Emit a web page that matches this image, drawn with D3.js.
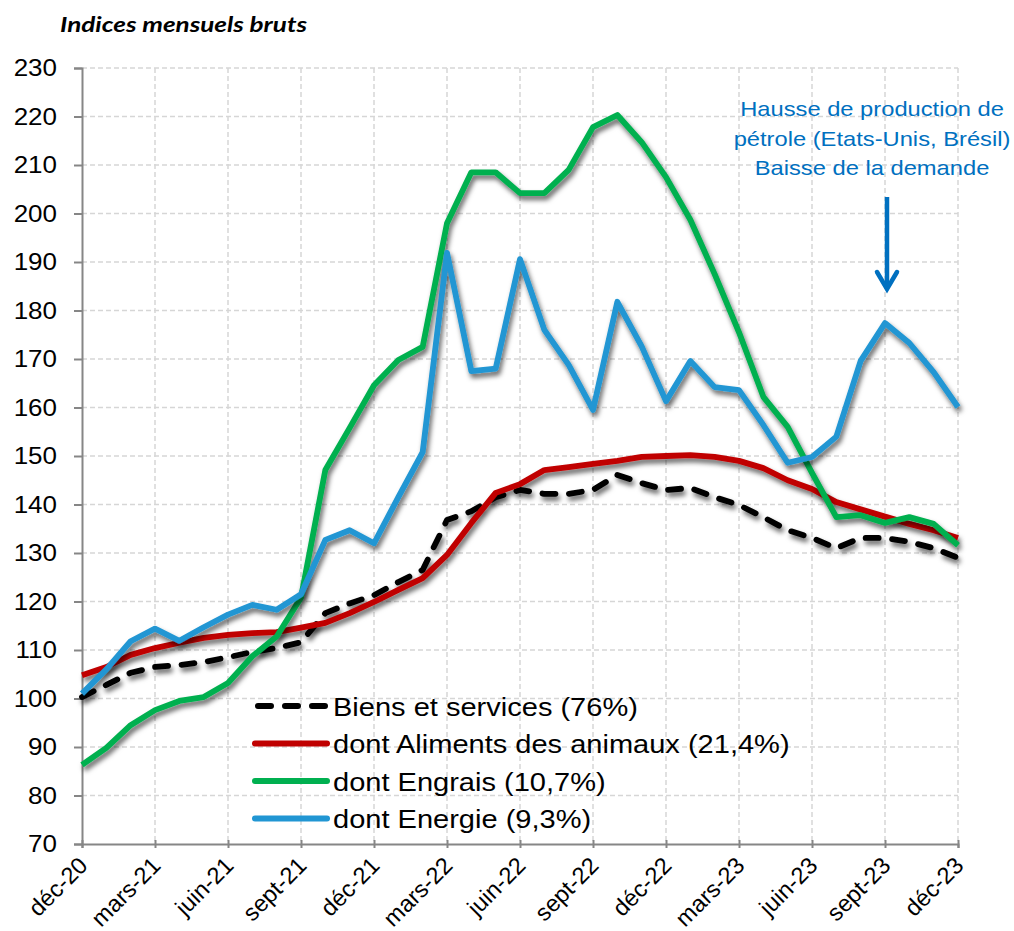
<!DOCTYPE html>
<html>
<head>
<meta charset="utf-8">
<script src="https://cdn.jsdelivr.net/npm/d3@7"></script>
<style>
  body { margin: 0; background: #fff; }
  text { font-family: "Liberation Sans", Arial, sans-serif; }
</style>
</head>
<body>
<div id="chart"></div>
<script>
// months, déc-20 .. déc-23
var months = ["déc-20","janv-21","févr-21","mars-21","avr-21","mai-21","juin-21","juil-21","août-21",
  "sept-21","oct-21","nov-21","déc-21","janv-22","févr-22","mars-22","avr-22","mai-22","juin-22",
  "juil-22","août-22","sept-22","oct-22","nov-22","déc-22","janv-23","févr-23","mars-23","avr-23",
  "mai-23","juin-23","juil-23","août-23","sept-23","oct-23","nov-23","déc-23"];

// only every 3rd month gets a label
var tickMonths = ["déc-20","mars-21","juin-21","sept-21","déc-21","mars-22","juin-22","sept-22",
  "déc-22","mars-23","juin-23","sept-23","déc-23"];

var yTicks = [70,80,90,100,110,120,130,140,150,160,170,180,190,200,210,220,230];

var biens = [100.3,102.8,105.3,106.5,106.9,107.5,108.5,109.6,110.4,111.6,117.6,119.6,121.3,124.0,
  126.5,136.8,138.6,141.5,143.0,142.2,142.2,143.0,146.1,144.4,143.0,143.4,141.5,139.9,137.4,134.7,
  133.1,131.0,133.1,133.1,132.3,131.0,129.0];
var aliments = [104.8,106.5,109.0,110.4,111.5,112.5,113.1,113.5,113.7,114.6,115.6,117.6,119.9,122.4,
  124.8,129.6,136.2,142.4,144.2,147.1,147.7,148.4,149.0,149.8,150.0,150.2,149.8,149.0,147.5,145.0,
  143.2,140.5,139.0,137.5,136.0,134.7,133.1];
var engrais = [86.3,89.8,94.5,97.6,99.5,100.3,103.2,108.7,112.8,120.8,147.1,155.8,164.6,169.8,172.5,
  198.0,208.5,208.5,204.2,204.2,209.0,217.8,220.3,214.7,207.5,198.7,187.5,175.5,162.2,156.0,146.5,
  137.4,137.8,136.2,137.4,136.0,131.6];
var energie = [101.0,106.0,111.8,114.4,111.9,114.7,117.3,119.3,118.3,121.5,132.7,134.7,132.0,141.5,
  150.8,191.9,167.5,168.0,190.6,176.0,168.8,159.5,181.8,172.6,161.3,169.6,164.2,163.6,156.4,148.6,
  149.8,154.0,169.6,177.4,173.3,167.3,160.1];

var seriesNames = ["Biens et services (76%)","dont Aliments des animaux (21,4%)",
  "dont Engrais (10,7%)","dont Energie (9,3%)"];
var seriesColors = ["#000000","#c00000","#00b050","#2196d3"];
var seriesData = [biens, aliments, engrais, energie];

var noteLines = ["Hausse de production de","pétrole (Etats-Unis, Brésil)","Baisse de la demande"];
var noteMonth = "sept-23";

var W = 1014, H = 931;
var plotLeft = 82, plotRight = 958, plotTop = 68, plotBottom = 844;
var stretch = 1.13; // the reference text is a bit wider than plain Arial

var svg = d3.select("#chart").append("svg")
  .attr("width", W)
  .attr("height", H);

// soft shadow under the data lines
var filter = svg.append("defs").append("filter")
  .attr("id", "shadow")
  .attr("filterUnits", "userSpaceOnUse")
  .attr("x", 0).attr("y", 0).attr("width", W).attr("height", H);
filter.append("feDropShadow")
  .attr("dx", 2).attr("dy", 4)
  .attr("stdDeviation", 2.6)
  .attr("flood-color", "#000")
  .attr("flood-opacity", 0.6);

var x = d3.scalePoint().domain(months).range([plotLeft, plotRight]);
var y = d3.scaleLinear().domain([70, 230]).range([plotBottom, plotTop]);

// gridlines
svg.append("g")
  .selectAll("line")
  .data(yTicks.slice(1))
  .enter().append("line")
  .attr("x1", plotLeft).attr("x2", plotRight)
  .attr("y1", function(d) { return y(d); })
  .attr("y2", function(d) { return y(d); })
  .attr("stroke", "#d6d6d6")
  .attr("stroke-width", 1.5)
  .attr("stroke-dasharray", "5,3");

svg.append("g")
  .selectAll("line")
  .data(tickMonths.slice(1))
  .enter().append("line")
  .attr("x1", function(d) { return x(d); })
  .attr("x2", function(d) { return x(d); })
  .attr("y1", plotTop).attr("y2", plotBottom)
  .attr("stroke", "#d6d6d6")
  .attr("stroke-width", 1.5)
  .attr("stroke-dasharray", "5,3");

// axes
var yAxis = svg.append("g")
  .attr("transform", "translate(" + plotLeft + ",0)")
  .call(d3.axisLeft(y).tickValues(yTicks).tickSize(8).tickFormat(""));
var xAxis = svg.append("g")
  .attr("transform", "translate(0," + plotBottom + ")")
  .call(d3.axisBottom(x).tickValues(tickMonths).tickSize(4).tickFormat(""));

[yAxis, xAxis].forEach(function(a) {
  a.select(".domain").attr("stroke", "#868686").attr("stroke-width", 2);
  a.selectAll(".tick line").attr("stroke", "#868686").attr("stroke-width", 2);
});
xAxis.selectAll(".tick line").attr("y1", -4);

// y labels
svg.append("g")
  .selectAll("text")
  .data(yTicks)
  .enter().append("text")
  .attr("transform", function(d) { return "translate(57," + (y(d) + 8) + ") scale(" + stretch + ",1)"; })
  .attr("text-anchor", "end")
  .style("font-size", "23px")
  .attr("fill", "#000")
  .text(function(d) { return d; });

// x labels, rotated
svg.append("g")
  .selectAll("text")
  .data(tickMonths)
  .enter().append("text")
  .attr("transform", function(d) { return "translate(" + (x(d) + 7) + ",867) rotate(-45)"; })
  .attr("text-anchor", "end")
  .style("font-size", "23.5px")
  .attr("fill", "#000")
  .text(function(d) { return d; });

// title
svg.append("text")
  .attr("x", 60).attr("y", 32)
  .attr("textLength", 247)
  .attr("lengthAdjust", "spacingAndGlyphs")
  .style("font-family", "Lato, 'Open Sans', sans-serif")
  .style("font-size", "21px")
  .style("font-weight", "bold")
  .style("font-style", "italic")
  .text("Indices mensuels bruts");

// series
var line = d3.line()
  .x(function(d, i) { return x(months[i]); })
  .y(function(d) { return y(d); });

seriesData.forEach(function(vals, k) {
  svg.append("path")
    .datum(vals)
    .attr("d", line)
    .attr("fill", "none")
    .attr("stroke", seriesColors[k])
    .attr("stroke-width", 5.8)
    .attr("stroke-linejoin", "round")
    .attr("stroke-linecap", k == 0 ? "round" : "butt")
    .attr("stroke-dasharray", k == 0 ? "13,13.5" : null)
    .attr("filter", "url(#shadow)");
});

// legend
var legend = svg.append("g");
seriesNames.forEach(function(name, k) {
  var cy = 706 + k * 37.5;
  legend.append("line")
    .attr("x1", k == 0 ? 258 : 255).attr("x2", k == 0 ? 325 : 327)
    .attr("y1", cy).attr("y2", cy)
    .attr("stroke", seriesColors[k])
    .attr("stroke-width", 6)
    .attr("stroke-linecap", "round")
    .attr("stroke-dasharray", k == 0 ? "13,14" : null);
  legend.append("text")
    .attr("transform", "translate(333," + (cy + 9.5) + ") scale(" + stretch + ",1)")
    .style("font-size", "25.7px")
    .attr("fill", "#000")
    .text(name);
});

// note with arrow
var noteColor = "#0070c0";
var note = svg.append("g");
noteLines.forEach(function(t, i) {
  note.append("text")
    .attr("transform", "translate(872," + (116 + i * 29.5) + ") scale(" + stretch + ",1)")
    .attr("text-anchor", "middle")
    .style("font-size", "21px")
    .attr("fill", noteColor)
    .text(t);
});
var ax = x(noteMonth) + 2;
note.append("line")
  .attr("x1", ax).attr("x2", ax)
  .attr("y1", 197).attr("y2", 288)
  .attr("stroke", noteColor)
  .attr("stroke-width", 4.5);
note.append("path")
  .attr("d", "M" + (ax - 10) + ",272 L" + ax + ",289 L" + (ax + 10) + ",272")
  .attr("fill", "none")
  .attr("stroke", noteColor)
  .attr("stroke-width", 4.5)
  .attr("stroke-linecap", "round")
  .attr("stroke-linejoin", "miter");
</script>
</body>
</html>
